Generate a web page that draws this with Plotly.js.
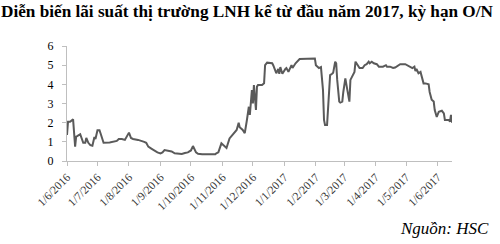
<!DOCTYPE html>
<html>
<head>
<meta charset="utf-8">
<script src="https://cdn.plot.ly/plotly-3.0.1.min.js"></script>
<style>html,body{margin:0;padding:0;background:#fff;}#chart{width:500px;height:244px;}</style>
</head>
<body>
<div id="chart"></div>
<script>
var dates = [
"2016-06-01","2016-06-02","2016-06-04","2016-06-07","2016-06-09","2016-06-10","2016-06-11","2016-06-13","2016-06-14","2016-06-17",
"2016-06-19","2016-06-20","2016-06-22","2016-06-24","2016-06-26","2016-06-28","2016-06-29","2016-07-01","2016-07-03","2016-07-04",
"2016-07-05","2016-07-07","2016-07-13","2016-07-17","2016-07-20","2016-07-22","2016-07-25","2016-07-28","2016-07-30","2016-08-01",
"2016-08-03","2016-08-05","2016-08-10","2016-08-14","2016-08-16","2016-08-18","2016-08-20","2016-08-23","2016-08-27","2016-08-29",
"2016-09-01","2016-09-03","2016-09-05","2016-09-09","2016-09-12","2016-09-15","2016-09-19","2016-09-22","2016-09-25","2016-09-28",
"2016-10-01","2016-10-03","2016-10-06","2016-10-08","2016-10-12","2016-10-18","2016-10-25","2016-10-26","2016-10-28","2016-10-31",
"2016-11-03","2016-11-05","2016-11-08","2016-11-10","2016-11-15","2016-11-17","2016-11-18","2016-11-21","2016-11-23","2016-11-25",
"2016-11-27","2016-11-28","2016-11-30","2016-12-01","2016-12-02","2016-12-04","2016-12-05","2016-12-06","2016-12-10","2016-12-12",
"2016-12-13","2016-12-15","2016-12-20","2016-12-21","2016-12-23","2016-12-24","2016-12-26","2016-12-27","2016-12-28","2016-12-30",
"2017-01-02","2017-01-03","2017-01-05","2017-01-07","2017-01-08","2017-01-09","2017-01-11","2017-01-12","2017-01-16","2017-01-31",
"2017-02-01","2017-02-04","2017-02-06","2017-02-08","2017-02-09","2017-02-10","2017-02-12","2017-02-14","2017-02-15","2017-02-17",
"2017-02-18","2017-02-20","2017-02-21","2017-02-22","2017-02-24","2017-02-25","2017-02-27","2017-02-28","2017-03-02","2017-03-04",
"2017-03-06","2017-03-07","2017-03-09","2017-03-11","2017-03-12","2017-03-14","2017-03-16","2017-03-19","2017-03-21","2017-03-23",
"2017-03-25","2017-03-26","2017-03-28","2017-03-30","2017-04-02","2017-04-04","2017-04-08","2017-04-11","2017-04-12","2017-04-15",
"2017-04-18","2017-04-20","2017-04-22","2017-04-25","2017-04-30","2017-05-02","2017-05-05","2017-05-07","2017-05-09","2017-05-10",
"2017-05-11","2017-05-13","2017-05-15","2017-05-16","2017-05-18","2017-05-20","2017-05-23","2017-05-24","2017-05-26","2017-05-28",
"2017-05-29","2017-05-31","2017-06-02","2017-06-05","2017-06-07","2017-06-08","2017-06-12","2017-06-13","2017-06-14","2017-06-15"
];
var rates = [
1.36,2.05,2.05,2.17,0.75,1.27,1.30,1.39,1.40,0.95,
0.95,1.20,0.95,0.83,0.80,1.25,1.15,1.60,1.60,1.45,
1.30,0.95,0.97,1.00,1.05,1.15,1.15,1.10,1.30,1.48,
1.20,1.15,1.10,1.05,1.00,0.95,0.75,0.65,0.50,0.45,
0.40,0.45,0.57,0.55,0.50,0.40,0.37,0.37,0.42,0.45,
0.55,0.78,0.45,0.38,0.35,0.35,0.35,0.40,0.45,0.92,
0.75,0.68,1.18,1.30,1.62,2.00,1.76,1.62,1.45,2.10,
2.83,2.40,3.70,3.00,3.96,2.66,3.88,3.96,3.96,4.05,
5.00,5.13,5.10,5.00,4.75,4.58,4.80,4.55,4.90,4.55,
4.80,4.85,4.65,4.85,5.00,4.85,5.00,5.10,5.32,5.35,
5.00,4.85,4.90,3.70,2.14,1.88,1.88,3.53,4.48,4.55,
4.60,5.18,5.10,4.23,3.10,3.05,3.10,3.60,4.31,3.70,
3.10,4.23,4.48,4.65,5.18,5.00,4.85,4.85,5.00,5.05,
5.18,5.10,5.18,5.10,5.05,4.92,4.92,5.00,4.92,4.92,
4.85,4.88,4.95,5.05,5.05,4.98,4.92,4.85,4.92,4.70,
4.80,4.58,4.65,4.48,4.05,4.05,4.00,3.60,3.20,3.10,
2.66,2.30,2.57,2.62,2.48,2.14,2.14,2.05,2.40,2.00
];
var tickDates = ["2016-06-01","2016-07-01","2016-08-01","2016-09-01","2016-10-01","2016-11-01","2016-12-01",
"2017-01-01","2017-02-01","2017-03-01","2017-04-01","2017-05-01","2017-06-01"];
var tickLabels = ["1/6/2016","1/7/2016","1/8/2016","1/9/2016","1/10/2016","1/11/2016","1/12/2016",
"1/1/2017","1/2/2017","1/3/2017","1/4/2017","1/5/2017","1/6/2017"];
var yTicks = [0,1,2,3,4,5,6];
var titleText = "Diễn biến lãi suất thị trường LNH kể từ đầu năm 2017, kỳ hạn O/N";
var sourceText = "Nguồn: HSC";

var serif = "Liberation Serif, Times New Roman, serif";
var trace = {
  x: dates, y: rates, type: "scatter", mode: "lines",
  line: {color: "#5a5a5a", width: 2},
  hoverinfo: "skip"
};
var layout = {
  width: 500, height: 244,
  margin: {l: 67, r: 48, t: 46, b: 83, pad: 0},
  paper_bgcolor: "#fff", plot_bgcolor: "#fff",
  showlegend: false,
  title: {
    text: "<b>" + titleText + "</b>",
    font: {family: serif, size: 17.2, color: "#000"},
    x: 0.002, xanchor: "left", xref: "container",
    y: 0.978, yanchor: "top", yref: "container"
  },
  xaxis: {
    type: "date",
    range: ["2016-06-01", "2017-06-15"],
    tickmode: "array", tickvals: tickDates, ticktext: tickLabels,
    tickangle: -45,
    tickfont: {family: serif, size: 11.5, color: "#333"},
    showgrid: false, zeroline: false,
    showline: true, linecolor: "#bfbfbf", linewidth: 1,
    ticks: "outside", ticklen: 4, tickcolor: "#bfbfbf", tickwidth: 1,
    fixedrange: true
  },
  yaxis: {
    range: [0, 6],
    tickmode: "array", tickvals: yTicks, ticktext: yTicks.map(String),
    tickfont: {family: serif, size: 12, color: "#000"},
    showgrid: false, zeroline: false,
    showline: true, linecolor: "#bfbfbf", linewidth: 1,
    ticks: "outside", ticklen: 4, tickcolor: "#bfbfbf", tickwidth: 1,
    ticklabelstandoff: 6,
    fixedrange: true
  },
  annotations: [{
    text: "<i>" + sourceText + "</i>",
    xref: "paper", yref: "paper",
    x: 1.1, xanchor: "right",
    y: -0.59, yanchor: "middle",
    showarrow: false,
    font: {family: serif, size: 17, color: "#000"}
  }]
};
Plotly.newPlot("chart", [trace], layout, {displayModeBar: false, staticPlot: true});
</script>
</body>
</html>
